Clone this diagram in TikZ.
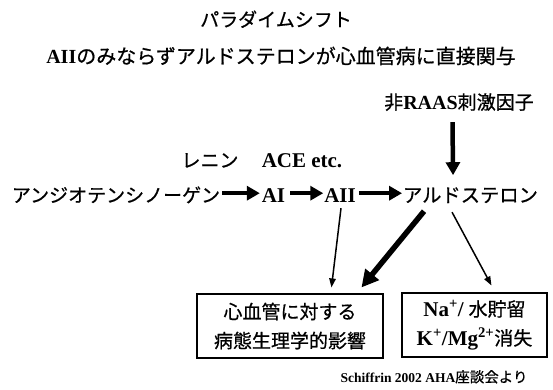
\documentclass[tikz,border=0pt]{standalone}
\usepackage{fontspec}
\setmainfont{Liberation Serif}
\newfontfamily\jp[FakeBold=0.6]{Noto Sans CJK JP}
\usetikzlibrary{arrows.meta,calc}
\tikzset{
  txt/.style={inner sep=0pt, outer sep=0pt, anchor=base},
  bigarrow/.style={line width=4.5pt, -{Triangle[length=13pt,width=14pt]}},
  thinarrow/.style={line width=1.5pt, -{Triangle[length=9pt,width=6.5pt]}},
  thickdiag/.style={line width=5.5pt, -{Triangle[length=17pt,width=17pt]}},
  boxed/.style={draw, line width=1.1pt, inner sep=0pt, align=center,
    font=\fontsize{19}{29}\selectfont}
}
\newcommand{\lat}[1]{{\fontsize{21}{25}\selectfont\bfseries #1}}
\begin{document}
\begin{tikzpicture}[x=1pt,y=-1pt]
\useasboundingbox (0,0) rectangle (553,389);
\fill[white] (0,0) rectangle (553,389);
% titles
\node[txt, font=\fontsize{19}{23}\selectfont\jp] (title) at (276,26.6) {パラダイムシフト};
\node[txt, font=\fontsize{20}{24}\selectfont] (sub) at (281,63.6) {\textbf{AII}\jp のみならずアルドステロンが心血管病に直接関与};
\node[txt, font=\fontsize{19}{23}\selectfont] (raas) at (459,109.2) {{\jp 非}\textbf{\fontsize{20}{24}\selectfont RAAS}{\jp 刺激因子}};
% enzymes
\node[txt, font=\fontsize{19}{23}\selectfont\jp] (renin) at (210,167.3) {レニン};
\node[txt] (ace) at (302,167.3) {\lat{ACE etc.}};
% main row
\node[txt, font=\fontsize{19}{23}\selectfont\jp] (ang) at (116,202.2) {アンジオテンシノーゲン};
\node[txt] (ai) at (273.5,202.2) {\lat{AI}};
\node[txt] (aii) at (340,202.2) {\lat{AII}};
\node[txt, font=\fontsize{19.3}{23}\selectfont\jp] (ald) at (470.5,202.2) {アルドステロン};
% boxes
\node[boxed, minimum width=186pt, minimum height=64pt] (box1) at (290,326)
  {\jp 心血管に対する\\\jp 病態生理学的影響};
\node[boxed, minimum width=145pt, minimum height=64pt] (box2) at (474.5,325)
  {\lat{Na\textsuperscript{+}/} {\jp 水貯留}\\\lat{K\textsuperscript{+}/Mg\textsuperscript{2+}}{\jp 消失}};
% footer
\node[txt] (foot) at (434,382.3) {{\fontsize{13.5}{16}\selectfont\bfseries Schiffrin 2002 AHA}{\fontsize{14.5}{16}\selectfont\jp 座談会より}};
% horizontal arrows
\draw[bigarrow] ($(ang.base east)+(2,-9)$) -- ($(ai.base west)+(-2,-9)$);
\draw[bigarrow] ($(ai.base east)+(5,-9)$) -- ($(aii.base west)+(-1,-9)$);
\draw[bigarrow] ($(aii.base east)+(3,-9)$) -- ($(ald.base west)+(-1,-9)$);
% vertical arrow
\draw[bigarrow] ($(raas.base)+(-6.5,13)$) -- ($(ald.base west)+(50,-27)$);
% lower arrows
\draw[thinarrow] ($(aii.base)+(1,6)$) -- ($(box1.north west)+(135,-6)$);
\draw[thickdiag] ($(ald.base west)+(21,9)$) -- ($(box1.north west)+(165,-6)$);
\draw[thinarrow] ($(ald.base west)+(49,10)$) -- ($(box2.north west)+(90,-7)$);
\end{tikzpicture}
\end{document}
